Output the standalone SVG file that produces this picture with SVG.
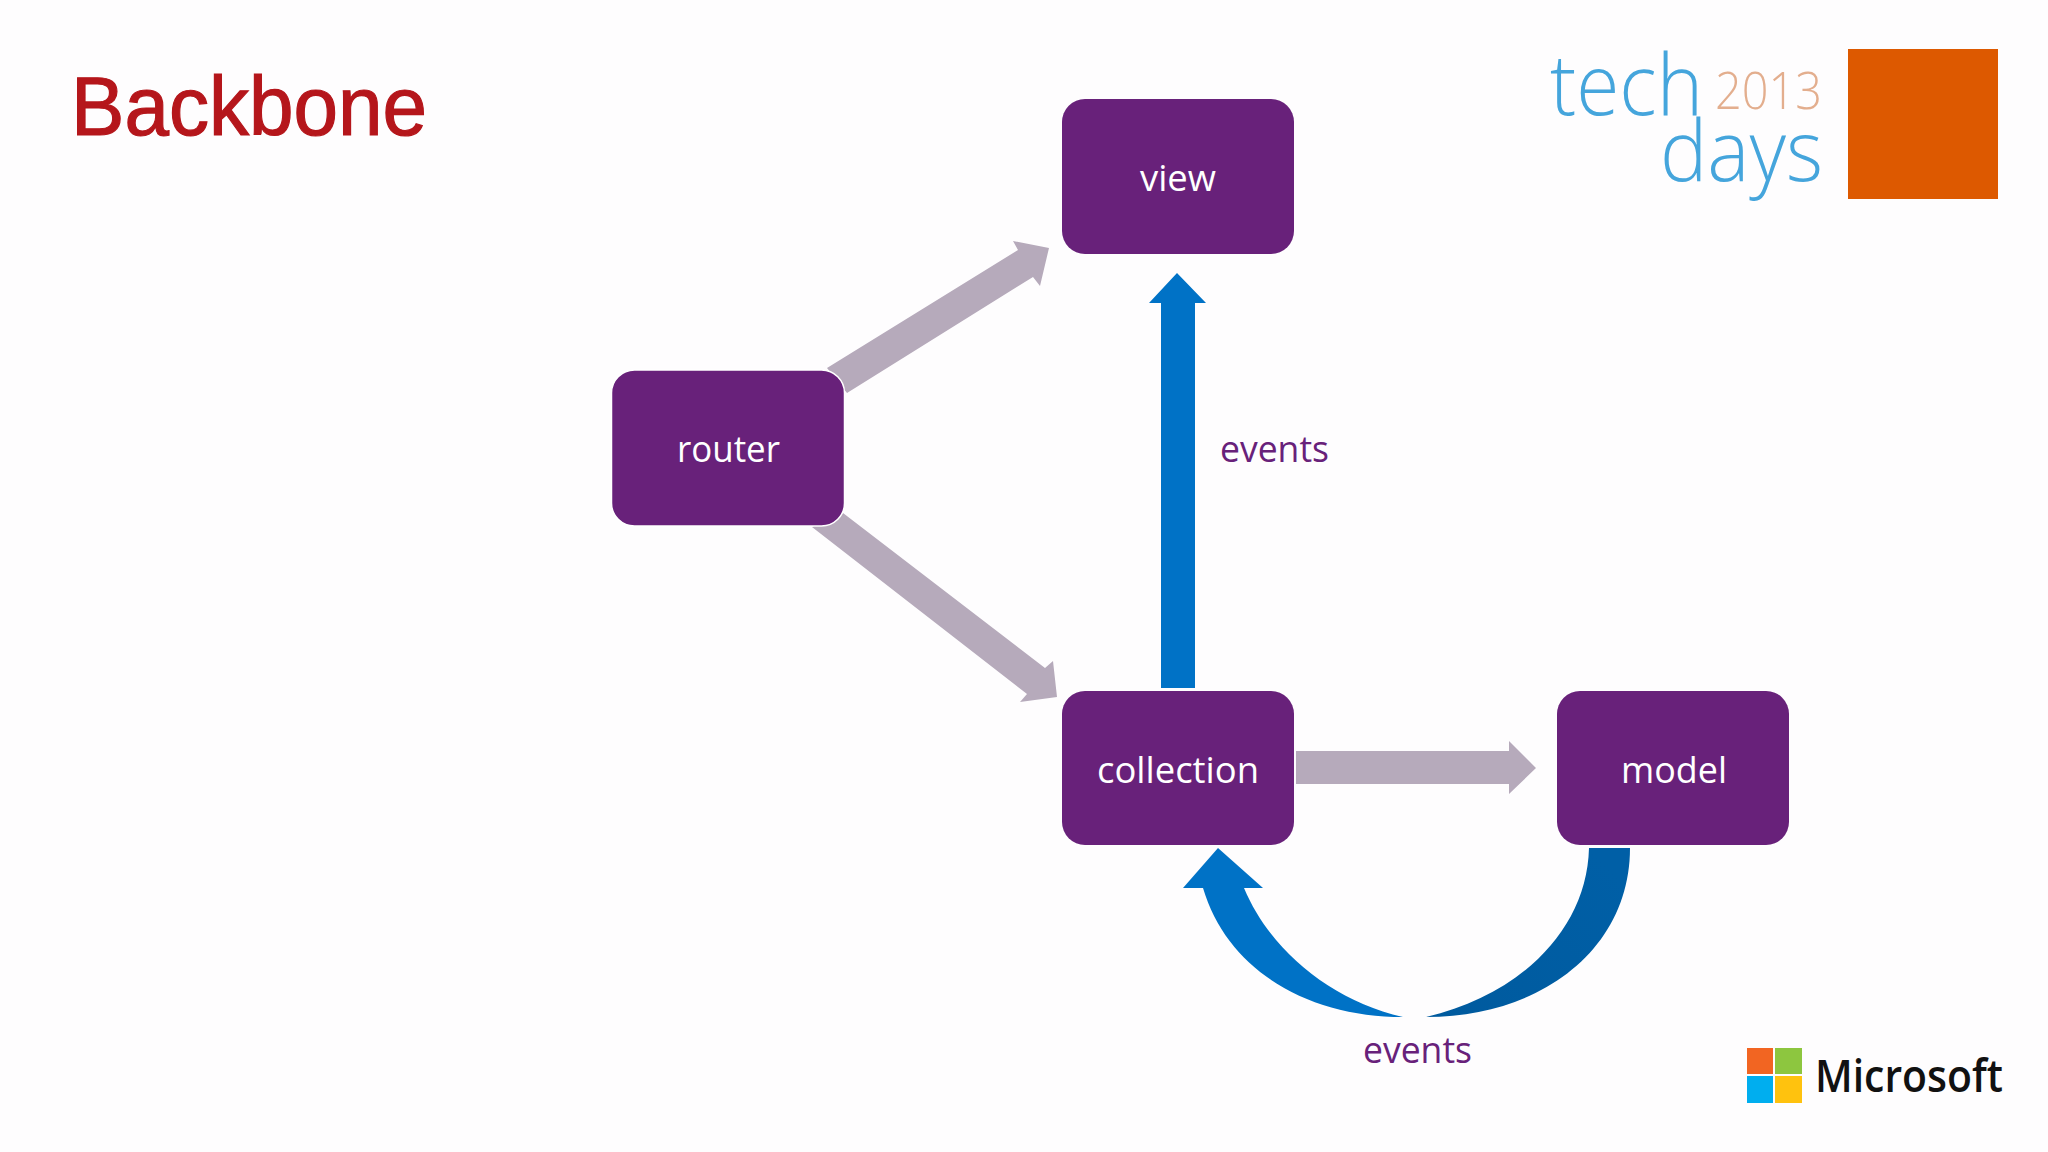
<svg xmlns="http://www.w3.org/2000/svg" width="2048" height="1152" viewBox="0 0 2048 1152">
<style>
.node{fill:#68217A}
.lbl{font-family:"Open Sans","Noto Sans",sans-serif;font-weight:400;font-size:37px;fill:#fff}
.ev{font-family:"Open Sans","Noto Sans",sans-serif;font-weight:400;font-size:37px;fill:#68217A}
.gray{fill:#B6AABB}
.blue{fill:#0072C6}
.tech{font-family:"Open Sans","Noto Sans",sans-serif;font-weight:300;fill:#45A5DC}
</style>
<defs>
<linearGradient id="dark" gradientUnits="userSpaceOnUse" x1="1590" y1="850" x2="1426" y2="1017"><stop offset="0" stop-color="#005FA6"/><stop offset="1" stop-color="#005A9E"/></linearGradient>
</defs>
<rect width="2048" height="1152" fill="#FEFDFE"/>
<text x="71" y="135" font-family="Liberation Sans, Arial, sans-serif" font-size="84" fill="#B5161B" stroke="#B5161B" stroke-width="1.2" textLength="356" lengthAdjust="spacingAndGlyphs">Backbone</text>
<g id="connectors">
<polygon class="gray" points="827,368 1018,250 1013,241 1049,248 1040,286 1033,277 847,393"/>
<polygon class="gray" points="812,527 843,513 1045,668 1053,661 1057,697 1020,702 1027,694"/>
<polygon class="gray" points="1296,751 1509,751 1509,741 1536,768 1509,794 1509,784 1296,784"/>
<polygon class="blue" points="1161,688 1161,303 1149,303 1177,273 1206,303 1195,303 1195,688"/>
<path fill="url(#dark)" d="M1589,848 C1587,930 1520,995 1426,1017 C1540,1017 1630,950 1630,848 Z"/>
<path class="blue" d="M1403,1017 C1310,1017 1228,972 1203,888 L1183,888 L1218,848 L1263,888 L1244,888 C1270,950 1330,1000 1403,1017 Z"/>
</g>
<g id="router"><rect class="node" x="611.5" y="370" width="233" height="156" rx="23" stroke="#fff" stroke-width="1.5"/><text class="lbl" x="677" y="462" textLength="103" lengthAdjust="spacingAndGlyphs">router</text></g>
<g id="view"><rect class="node" x="1062" y="99" width="232" height="155" rx="23"/><text class="lbl" x="1140" y="191" textLength="76" lengthAdjust="spacingAndGlyphs">view</text></g>
<g id="collection"><rect class="node" x="1062" y="691" width="232" height="154" rx="23"/><text class="lbl" x="1097" y="783" textLength="162" lengthAdjust="spacingAndGlyphs">collection</text></g>
<g id="model"><rect class="node" x="1557" y="691" width="232" height="154" rx="23"/><text class="lbl" x="1621" y="783" textLength="106" lengthAdjust="spacingAndGlyphs">model</text></g>
<text class="ev" x="1220" y="462" textLength="109" lengthAdjust="spacingAndGlyphs">events</text>
<text class="ev" x="1363" y="1063" textLength="109" lengthAdjust="spacingAndGlyphs">events</text>
<g id="techdays">
<text class="tech" x="1550" y="115" font-size="84" textLength="153" lengthAdjust="spacingAndGlyphs">tech</text>
<text class="tech" x="1660" y="181" font-size="84" textLength="163" lengthAdjust="spacingAndGlyphs">days</text>
<text x="1715" y="109" font-family="Open Sans, sans-serif" font-weight="300" font-size="52" fill="#E3AE8E" textLength="107" lengthAdjust="spacingAndGlyphs">2013</text>
<rect x="1848" y="49" width="150" height="150" fill="#DD5900"/>
</g>
<g id="microsoft">
<rect x="1747" y="1048" width="26" height="26" fill="#F26522"/>
<rect x="1775" y="1048" width="27" height="26" fill="#8DC63F"/>
<rect x="1747" y="1076" width="26" height="27" fill="#00AEEF"/>
<rect x="1775" y="1076" width="27" height="27" fill="#FFC20E"/>
<text x="1815" y="1092" font-family="Open Sans, sans-serif" font-weight="600" font-size="46" fill="#111" textLength="188" lengthAdjust="spacingAndGlyphs">Microsoft</text>
</g>
</svg>
